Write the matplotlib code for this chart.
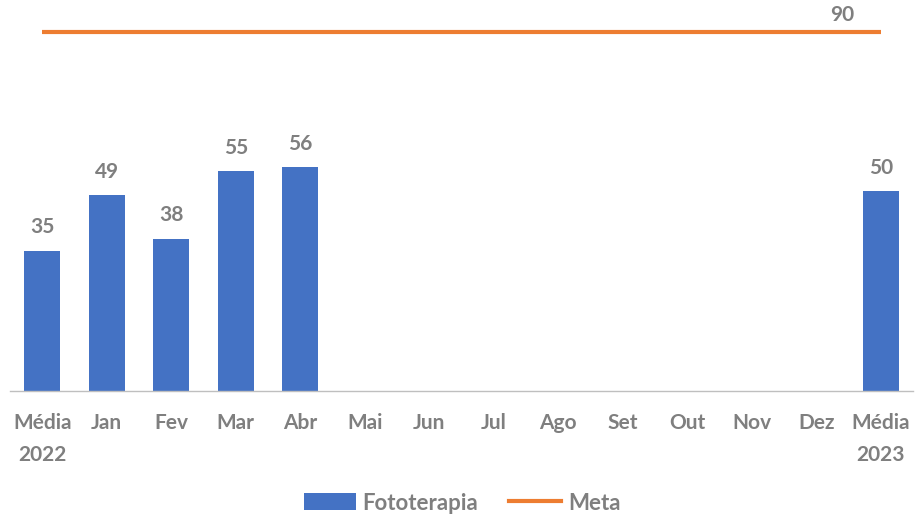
import numpy as np
import matplotlib
matplotlib.use("Agg")
import matplotlib.pyplot as plt
from matplotlib.lines import Line2D
from matplotlib.patches import Patch

categories = ["Média\n2022", "Jan", "Fev", "Mar", "Abr", "Mai", "Jun", "Jul",
              "Ago", "Set", "Out", "Nov", "Dez", "Média\n2023"]
fototerapia = [35, 49, 38, 55, 56, None, None, None, None, None, None, None, None, 50]
meta = [90] * len(categories)

BLUE = "#4472C4"
ORANGE = "#ED7D31"
GRAY = "#7F7F7F"

plt.rcParams["font.family"] = ["Lato", "DejaVu Sans"]
plt.rcParams["font.weight"] = "bold"

fig = plt.figure(figsize=(9.15, 5.19), dpi=100)
ax = fig.add_axes([10 / 915, 1 - 391 / 519, 903 / 915, 386 / 519])

x = np.arange(len(categories))
vals = np.array([np.nan if v is None else v for v in fototerapia], dtype=float)
ax.bar(x, vals, width=0.56, color=BLUE, zorder=2)
ax.plot(x, meta, color=ORANGE, lw=3, solid_capstyle="butt", zorder=3)

for xi, v in zip(x, fototerapia):
    if v is not None:
        ax.annotate(f"{v}", (xi, v), xytext=(0, 10), textcoords="offset points",
                    ha="center", va="bottom", fontsize=15, color=GRAY, fontweight="bold")
ax.annotate(f"{meta[-1]}", (x[-1], meta[-1]), xytext=(-28, 5), textcoords="offset points",
            ha="center", va="bottom", fontsize=15, color=GRAY, fontweight="bold")

ax.set_xlim(-0.5, len(categories) - 0.5)
ax.set_ylim(0, 96.7)
ax.set_xticks(x)
ax.set_xticklabels(categories, fontsize=15, color=GRAY, fontweight="bold", linespacing=1.75)
ax.tick_params(axis="x", length=0, pad=16)
ax.set_yticks([])
for s in ["top", "right", "left"]:
    ax.spines[s].set_visible(False)
ax.spines["bottom"].set_color("#BFBFBF")
ax.spines["bottom"].set_linewidth(1)

handles = [Patch(facecolor=BLUE, edgecolor="none"),
           Line2D([0], [0], color=ORANGE, lw=3)]
leg = fig.legend(handles, ["Fototerapia", "Meta"], loc="center", bbox_to_anchor=(0.505, 1 - 503 / 519),
                 ncol=2, frameon=False, fontsize=16, handlelength=2.35, handleheight=0.8,
                 columnspacing=1.4, handletextpad=0.3)
for t in leg.get_texts():
    t.set_color(GRAY)
    t.set_fontweight("bold")

fig.savefig("out.png", dpi=100)
